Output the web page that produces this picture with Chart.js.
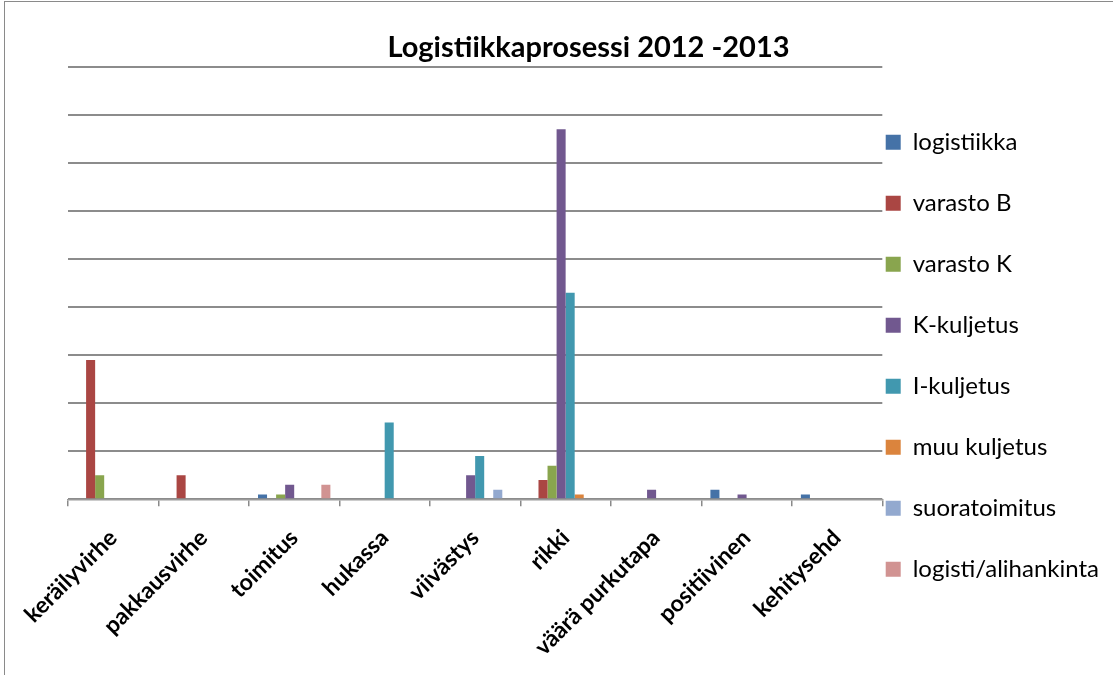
<!DOCTYPE html>
<html>
<head>
<meta charset="utf-8">
<script src="https://cdn.jsdelivr.net/npm/chart.js@4.4.1/dist/chart.umd.min.js"></script>
<style>
  html, body { margin: 0; padding: 0; background: #fff; overflow: hidden; }
  #frame { position: absolute; left: 4px; top: 1px; width: 1200px; height: 800px; border-left: 1.5px solid #8a8a8a; border-top: 1.5px solid #8a8a8a; }
  #wrap { position: absolute; left: 0; top: 0; width: 1113px; height: 675px; }
</style>
</head>
<body>
<div id="frame"></div>
<div id="wrap"><canvas id="chart"></canvas></div>
<script>
const categories = ['keräilyvirhe', 'pakkausvirhe', 'toimitus', 'hukassa', 'viivästys', 'rikki', 'väärä purkutapa', 'positiivinen', 'kehitysehd'];

const logistiikka = [0, 0, 1, 0, 0, 0, 0, 2, 1];
const varastoB = [29, 5, 0, 0, 0, 4, 0, 0, 0];
const varastoK = [5, 0, 1, 0, 0, 7, 0, 0, 0];
const kKuljetus = [0, 0, 3, 0, 5, 77, 2, 1, 0];
const iKuljetus = [0, 0, 0, 16, 9, 43, 0, 0, 0];
const muuKuljetus = [0, 0, 0, 0, 0, 1, 0, 0, 0];
const suoratoimitus = [0, 0, 0, 0, 2, 0, 0, 0, 0];
const logistiAlihankinta = [0, 0, 3, 0, 0, 0, 0, 0, 0];

const series = [
  ['logistiikka', logistiikka, '#4572a7'],
  ['varasto B', varastoB, '#aa4643'],
  ['varasto K', varastoK, '#89a54e'],
  ['K-kuljetus', kKuljetus, '#71588f'],
  ['I-kuljetus', iKuljetus, '#4198af'],
  ['muu kuljetus', muuKuljetus, '#db843d'],
  ['suoratoimitus', suoratoimitus, '#93a9cf'],
  ['logisti/alihankinta', logistiAlihankinta, '#d19392'],
];

const FONT = 'Lato, "Open Sans", sans-serif';

// each legend entry gets an empty second line so rows are spaced like the original
const legendLabels = (chart) =>
  Chart.defaults.plugins.legend.labels.generateLabels(chart).map((item) => ({ ...item, text: [item.text, ''] }));

new Chart(document.getElementById('chart'), {
  type: 'bar',
  data: {
    labels: categories,
    datasets: series.map(([label, data, color]) => ({
      label,
      data,
      backgroundColor: color,
      borderWidth: 0,
      categoryPercentage: 0.8,
      barPercentage: 1,
    })),
  },
  options: {
    responsive: true,
    maintainAspectRatio: false,
    animation: false,
    layout: { padding: { left: 68, right: 4, top: 20, bottom: -4 } },
    plugins: {
      title: {
        display: true,
        text: 'Logistiikkaprosessi 2012 -2013',
        color: '#000',
        font: { family: FONT, size: 29, weight: 'bold', lineHeight: 1.2 },
        padding: { top: 10, bottom: 2 },
      },
      legend: {
        position: 'right',
        // empty title only pushes the entries down a bit
        title: { display: true, text: '', font: { size: 10, lineHeight: 1 }, padding: 18 },
        labels: {
          color: '#000',
          font: { family: FONT, size: 24, lineHeight: 1.2 },
          boxWidth: 15,
          boxHeight: 15,
          padding: 3.4,
          generateLabels: legendLabels,
        },
      },
      tooltip: { enabled: false },
    },
    scales: {
      x: {
        grid: { offset: true, drawOnChartArea: false, color: '#8a8a8a', lineWidth: 1.5, tickLength: 7 },
        border: { color: '#9a9a9a', width: 1.5 },
        ticks: {
          color: '#000',
          font: { family: FONT, size: 23, weight: 'bold' },
          minRotation: 45,
          maxRotation: 45,
          autoSkip: false,
          padding: 18,
        },
      },
      y: {
        min: 0,
        max: 90,
        ticks: { display: false, stepSize: 10 },
        grid: { color: '#8c8c8c', lineWidth: 2, drawTicks: false },
        border: { display: false },
      },
    },
  },
});
</script>
</body>
</html>
